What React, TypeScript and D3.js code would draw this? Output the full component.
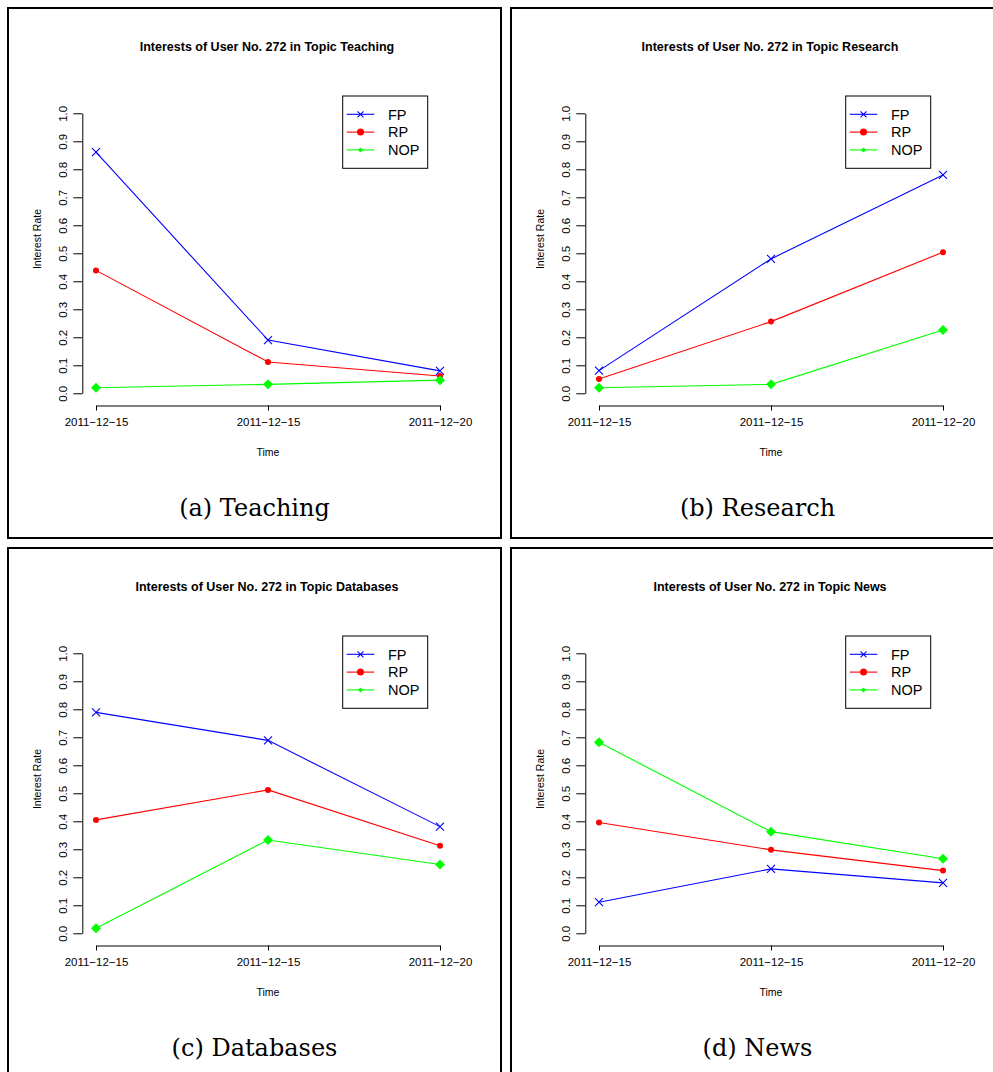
import React, { useEffect, useRef } from 'react';
import * as d3 from 'd3';

// x tick labels (R prints the hyphen as a minus sign)
const dates = ['2011\u221212\u221215', '2011\u221212\u221215', '2011\u221212\u221220'];
const seriesNames = ['FP', 'RP', 'NOP'];
const seriesColors = ['#0000FF', '#FF0000', '#00FF00'];
const yTicks = [0, 0.1, 0.2, 0.3, 0.4, 0.5, 0.6, 0.7, 0.8, 0.9, 1.0];

// values
const teachingFP = [0.861, 0.19, 0.08];
const teachingRP = [0.439, 0.112, 0.062];
const teachingNOP = [0.02, 0.032, 0.047];

const researchFP = [0.081, 0.48, 0.78];
const researchRP = [0.051, 0.256, 0.504];
const researchNOP = [0.02, 0.032, 0.226];

const databasesFP = [0.789, 0.689, 0.381];
const databasesRP = [0.405, 0.512, 0.313];
const databasesNOP = [0.018, 0.333, 0.246];

const newsFP = [0.111, 0.23, 0.18];
const newsRP = [0.396, 0.298, 0.224];
const newsNOP = [0.682, 0.363, 0.266];

const SANS = '"Liberation Sans", Arial, Helvetica, sans-serif';

interface PanelProps {
  topic: string;
  letter: string;
  fp: number[];
  rp: number[];
  nop: number[];
  left: number;
  top: number;
}

// draw one R-style marker into a selection
function marker(g: d3.Selection<SVGGElement, unknown, null, undefined>, kind: number, x: number, y: number, big: boolean) {
  const color = seriesColors[kind];
  if (kind === 0) {
    const s = big ? 4 : 3;
    g.append('path')
      .attr('d', `M${x - s},${y - s}L${x + s},${y + s}M${x - s},${y + s}L${x + s},${y - s}`)
      .attr('stroke', color)
      .attr('stroke-width', 1.1)
      .attr('fill', 'none');
  } else if (kind === 1) {
    g.append('circle')
      .attr('cx', x)
      .attr('cy', y)
      .attr('r', big ? 3 : 3.5)
      .attr('fill', color);
  } else {
    const s = big ? 5 : 2.5;
    g.append('path')
      .attr('d', `M${x},${y - s}L${x + s},${y}L${x},${y + s}L${x - s},${y}Z`)
      .attr('fill', color);
  }
}

const Panel: React.FC<PanelProps> = ({ topic, letter, fp, rp, nop, left, top }) => {
  const gRef = useRef<SVGGElement>(null);

  useEffect(() => {
    if (!gRef.current) return;
    const g = d3.select(gRef.current);
    g.selectAll('*').remove();

    const width = 493;
    const height = 530;

    // frame
    g.append('rect')
      .attr('x', 0)
      .attr('y', 0)
      .attr('width', width)
      .attr('height', height)
      .attr('fill', '#fff')
      .attr('stroke', '#000')
      .attr('stroke-width', 2);

    const xScale = d3.scaleLinear().domain([0, 2]).range([88, 432]);
    const yScale = d3.scaleLinear().domain([0, 1]).range([385.3, 105.3]);

    // title
    g.append('text')
      .attr('x', 259)
      .attr('y', 43)
      .attr('text-anchor', 'middle')
      .style('font-family', SANS)
      .style('font-size', '12.5px')
      .style('font-weight', 'bold')
      .text(`Interests of User No. 272 in Topic ${topic}`);

    // Y axis with rotated labels
    const yAxis = g.append('g')
      .attr('transform', 'translate(74.3,0)')
      .call(
        d3.axisLeft(yScale)
          .tickValues(yTicks)
          .tickSize(9)
          .tickSizeOuter(0)
          .tickFormat(d => d3.format('.1f')(d as number))
      );
    yAxis.attr('font-family', SANS).attr('font-size', 11.5);
    yAxis.selectAll('text')
      .attr('x', 0)
      .attr('y', -15)
      .attr('dy', 0)
      .attr('transform', 'rotate(-90)')
      .attr('text-anchor', 'middle')
      .attr('fill', '#000');
    yAxis.selectAll('line, path').attr('stroke', '#000');

    // X axis
    const xAxis = g.append('g')
      .attr('transform', 'translate(0,397.5)')
      .call(
        d3.axisBottom(xScale)
          .tickValues([0, 1, 2])
          .tickSize(5)
          .tickSizeOuter(0)
          .tickPadding(7)
          .tickFormat(d => dates[d as number])
      );
    xAxis.attr('font-family', SANS).attr('font-size', 11.5);
    xAxis.selectAll('text').attr('fill', '#000');
    xAxis.selectAll('line, path').attr('stroke', '#000');

    // axis titles
    g.append('text')
      .attr('x', 260)
      .attr('y', 447.5)
      .attr('text-anchor', 'middle')
      .style('font-family', SANS)
      .style('font-size', '10.5px')
      .text('Time');

    g.append('text')
      .attr('transform', 'translate(32.5,231) rotate(-90)')
      .attr('text-anchor', 'middle')
      .style('font-family', SANS)
      .style('font-size', '10.5px')
      .text('Interest Rate');

    // series
    const all = [fp, rp, nop];
    const line = d3.line<number>()
      .x((_, i) => xScale(i))
      .y(d => yScale(d));

    all.forEach((vals, k) => {
      g.append('path')
        .datum(vals)
        .attr('fill', 'none')
        .attr('stroke', seriesColors[k])
        .attr('stroke-width', 1.1)
        .attr('d', line);
    });
    all.forEach((vals, k) => {
      const mg = g.append('g');
      vals.forEach((v, i) => marker(mg as any, k, xScale(i), yScale(v), true));
    });

    // legend
    const leg = g.append('g').attr('transform', 'translate(334.7,88)');
    leg.append('rect')
      .attr('width', 85)
      .attr('height', 72.3)
      .attr('fill', '#fff')
      .attr('stroke', '#000')
      .attr('stroke-width', 1);
    seriesNames.forEach((name, k) => {
      const ry = 18.3 + k * 17.8;
      leg.append('line')
        .attr('x1', 4)
        .attr('x2', 31.6)
        .attr('y1', ry)
        .attr('y2', ry)
        .attr('stroke', seriesColors[k])
        .attr('stroke-width', 1.1);
      marker(leg as any, k, 17.8, ry, false);
      leg.append('text')
        .attr('x', 45.3)
        .attr('y', ry)
        .attr('dy', '0.36em')
        .style('font-family', SANS)
        .style('font-size', '14.5px')
        .text(name);
    });

    // caption
    g.append('text')
      .attr('x', 246.5)
      .attr('y', 507.5)
      .attr('text-anchor', 'middle')
      .style('font-family', '"DejaVu Serif", serif')
      .style('font-size', '24px')
      .text(`(${letter}) ${topic}`);
  }, [topic, letter, fp, rp, nop]);

  return <g ref={gRef} transform={`translate(${left},${top})`} />;
};

const App: React.FC = () => {
  return (
    <svg
      width={993}
      height={1072}
      style={{ position: 'absolute', left: 0, top: 0, background: '#fff' }}
    >
      <rect width={993} height={1072} fill="#fff" />
      <Panel topic="Teaching" letter="a" fp={teachingFP} rp={teachingRP} nop={teachingNOP} left={8} top={8} />
      <Panel topic="Research" letter="b" fp={researchFP} rp={researchRP} nop={researchNOP} left={511} top={8} />
      <Panel topic="Databases" letter="c" fp={databasesFP} rp={databasesRP} nop={databasesNOP} left={8} top={548} />
      <Panel topic="News" letter="d" fp={newsFP} rp={newsRP} nop={newsNOP} left={511} top={548} />
    </svg>
  );
};

export default App;
